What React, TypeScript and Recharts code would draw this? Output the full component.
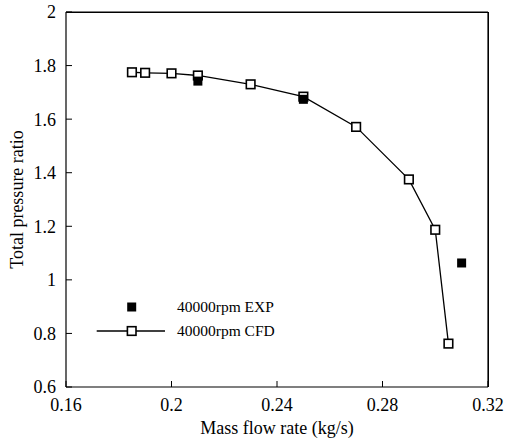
import React from 'react';
import { ScatterChart, Scatter, XAxis, YAxis, ReferenceLine } from 'recharts';

const cfdMassFlow = [0.185, 0.19, 0.2, 0.21, 0.23, 0.25, 0.27, 0.29, 0.3, 0.305];
const cfdPressureRatio = [1.775, 1.773, 1.771, 1.763, 1.73, 1.684, 1.571, 1.375, 1.187, 0.762];
const expMassFlow = [0.21, 0.25, 0.31];
const expPressureRatio = [1.742, 1.674, 1.063];

const xTicks = [0.16, 0.2, 0.24, 0.28, 0.32];
const yTicks = [0.6, 0.8, 1, 1.2, 1.4, 1.6, 1.8, 2];

const legendLabels = ['40000rpm EXP', '40000rpm CFD'];
const xLabel = 'Mass flow rate (kg/s)';
const yLabel = 'Total pressure ratio';

const cfdData = cfdMassFlow.map((x, i) => ({ x, y: cfdPressureRatio[i] }));
const expData = expMassFlow.map((x, i) => ({ x, y: expPressureRatio[i] }));

const FONT = "'Liberation Serif', 'Times New Roman', serif";

const W = 505;
const H = 443;
const M = { top: 12, right: 17, left: 0, bottom: 0 };
const Y_AXIS_W = 66;
const X_AXIS_H = 56;
const PLOT_LEFT = M.left + Y_AXIS_W;
const PLOT_RIGHT = W - M.right;
const PLOT_TOP = M.top;
const PLOT_BOTTOM = H - M.bottom - X_AXIS_H;

const OpenSquare = (props: any) => {
  const { cx, cy } = props;
  if (cx == null || cy == null) return null;
  const s = 8.6;
  return <rect x={cx - s / 2} y={cy - s / 2} width={s} height={s} fill="#fff" stroke="#000" strokeWidth={1.6} />;
};

const FilledSquare = (props: any) => {
  const { cx, cy } = props;
  if (cx == null || cy == null) return null;
  const s = 9;
  return <rect x={cx - s / 2} y={cy - s / 2} width={s} height={s} fill="#000" />;
};

const XTick = (props: any) => {
  const { x, y, payload } = props;
  return (
    <text x={x} y={y} dy="0.71em" textAnchor="middle" fontFamily={FONT} fontSize={18} fill="#000">
      {String(payload.value)}
    </text>
  );
};

const YTick = (props: any) => {
  const { x, y, payload } = props;
  return (
    <text x={x} y={y} dy="0.355em" textAnchor="end" fontFamily={FONT} fontSize={18} fill="#000">
      {String(payload.value)}
    </text>
  );
};

const XLabel = (props: any) => {
  const vb = props.viewBox || { x: PLOT_LEFT, y: PLOT_BOTTOM, width: PLOT_RIGHT - PLOT_LEFT, height: X_AXIS_H };
  return (
    <text x={vb.x + vb.width / 2} y={433.5} textAnchor="middle" fontFamily={FONT} fontSize={18} fill="#000">
      {xLabel}
    </text>
  );
};

const YLabel = (props: any) => {
  const vb = props.viewBox || { x: 0, y: PLOT_TOP, width: Y_AXIS_W, height: PLOT_BOTTOM - PLOT_TOP };
  const cx = 16.5;
  const cy = vb.y + vb.height / 2;
  return (
    <text
      x={cx}
      y={cy}
      transform={`rotate(-90, ${cx}, ${cy})`}
      textAnchor="middle"
      dominantBaseline="central"
      fontFamily={FONT}
      fontSize={18}
      fill="#000"
    >
      {yLabel}
    </text>
  );
};

export default function App() {
  return (
    <div style={{ position: 'absolute', left: 0, top: 0, width: W, height: H, background: '#fff' }}>
      <ScatterChart width={W} height={H} margin={M}>
        <XAxis
          type="number"
          dataKey="x"
          domain={[0.16, 0.32]}
          ticks={xTicks}
          height={X_AXIS_H}
          tickSize={-6}
          tickMargin={17}
          axisLine={{ stroke: '#000', strokeWidth: 1.2 }}
          tickLine={{ stroke: '#000', strokeWidth: 1 }}
          tick={<XTick />}
          label={<XLabel />}
        />
        <YAxis
          type="number"
          dataKey="y"
          domain={[0.6, 2]}
          ticks={yTicks}
          width={Y_AXIS_W}
          tickSize={-6}
          tickMargin={16}
          axisLine={{ stroke: '#000', strokeWidth: 1.2 }}
          tickLine={{ stroke: '#000', strokeWidth: 1 }}
          tick={<YTick />}
          label={<YLabel />}
        />
        <ReferenceLine y={2} stroke="#000" strokeWidth={1.2} />
        <ReferenceLine x={0.32} stroke="#000" strokeWidth={1.2} />
        <Scatter
          name={legendLabels[1]}
          data={cfdData}
          line={{ stroke: '#000', strokeWidth: 1.3 }}
          lineJointType="linear"
          shape={OpenSquare}
          isAnimationActive={false}
        />
        <Scatter name={legendLabels[0]} data={expData} shape={FilledSquare} isAnimationActive={false} />
      </ScatterChart>
      <div
        style={{
          position: 'absolute',
          left: PLOT_LEFT,
          top: PLOT_TOP - 0.5,
          width: PLOT_RIGHT - PLOT_LEFT + 0.5,
          height: PLOT_BOTTOM - PLOT_TOP + 0.5,
          borderTop: '1.5px solid #000',
          borderRight: '1.5px solid #000',
          boxSizing: 'border-box',
          pointerEvents: 'none',
        }}
      />
      <svg width={W} height={H} style={{ position: 'absolute', left: 0, top: 0, pointerEvents: 'none' }}>
        <rect x={131.7 - 4.5} y={307 - 4.5} width={9} height={9} fill="#000" />
        <text x={177} y={311.5} fontFamily={FONT} fontSize={15.5} fill="#000">
          {legendLabels[0]}
        </text>
        <line x1={96.7} y1={331} x2={165} y2={331} stroke="#000" strokeWidth={1.3} />
        <rect x={131.7 - 4.3} y={331 - 4.3} width={8.6} height={8.6} fill="#fff" stroke="#000" strokeWidth={1.6} />
        <text x={177} y={336} fontFamily={FONT} fontSize={15.5} fill="#000">
          {legendLabels[1]}
        </text>
      </svg>
    </div>
  );
}
